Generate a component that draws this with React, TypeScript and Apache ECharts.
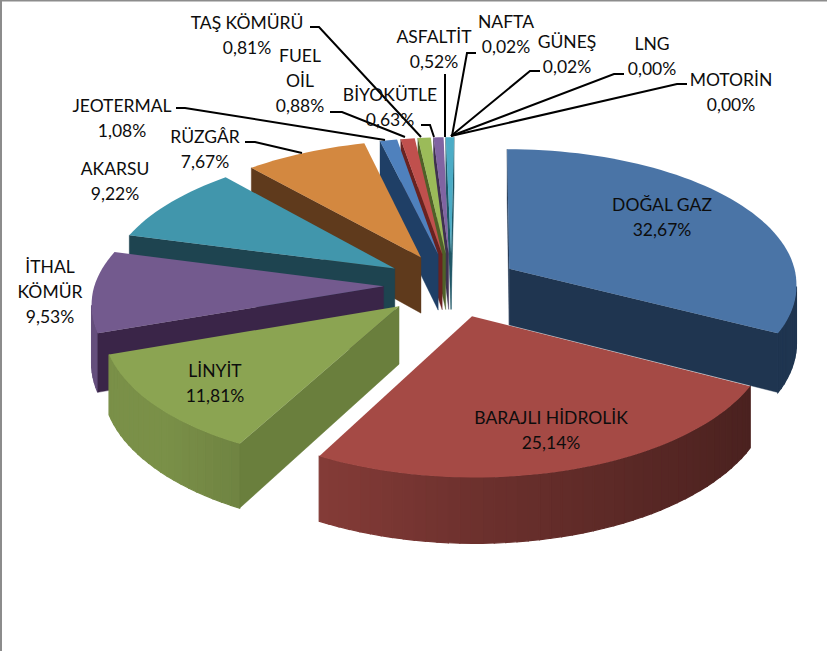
import React, { useEffect, useRef } from "react";
import * as echarts from "echarts";

const names = ["DOĞAL GAZ","BARAJLI HİDROLİK","LİNYİT","İTHAL KÖMÜR","AKARSU","RÜZGÂR","JEOTERMAL","FUEL OİL","TAŞ KÖMÜRÜ","BİYOKÜTLE","ASFALTİT","NAFTA","GÜNEŞ","LNG","MOTORİN"];
const values = [32.67,25.14,11.81,9.53,9.22,7.67,1.08,0.88,0.81,0.63,0.52,0.02,0.02,0.0,0.0];

const topColors = ["#4a74a6","#a54a45","#8ba452","#735a8e","#4196ac","#d38840","#4f81bd","#c0504d","#9bbb59","#8064a2","#4bacc6","#f79646","#4f81bd","#c0504d","#9bbb59"];
const wallColors = ["#1f3550","#4a1f1e","#6a7f3d","#3a2548","#1e4450","#5f3a1c","#1f3f66","#6a2220","#4f6128","#3f3151","#205867","#974806","#1f3f66","#6a2220","#4f6128"];

// projection of the pie's plane to the screen
const CX = 451.5, CY = 285, RX = 289, RY = 136, PERSP = 0.11, SKEW = 3.5, EXPLODE = 0.235, DEPTH = 57;

// label lines: text centre x, first line y; wrapped names
const labelLayout: Record<number, { x: number; y: number; lines: string[] }> = {
  0: { x: 662, y: 204, lines: ["DOĞAL GAZ"] },
  1: { x: 551, y: 417, lines: ["BARAJLI HİDROLİK"] },
  2: { x: 215, y: 370, lines: ["LİNYİT"] },
  3: { x: 50, y: 266, lines: ["İTHAL", "KÖMÜR"] },
  4: { x: 115, y: 168, lines: ["AKARSU"] },
  5: { x: 205, y: 136, lines: ["RÜZGÂR"] },
  6: { x: 122, y: 105, lines: ["JEOTERMAL"] },
  7: { x: 300, y: 55, lines: ["FUEL", "OİL"] },
  8: { x: 247, y: 22, lines: ["TAŞ KÖMÜRÜ"] },
  9: { x: 390, y: 94, lines: ["BİYOKÜTLE"] },
  10: { x: 434, y: 36, lines: ["ASFALTİT"] },
  11: { x: 506, y: 21, lines: ["NAFTA"] },
  12: { x: 567, y: 41, lines: ["GÜNEŞ"] },
  13: { x: 652, y: 43, lines: ["LNG"] },
  14: { x: 731, y: 79, lines: ["MOTORİN"] },
};
const leaderLayout: number[][][] = [
  [[176,108],[185,108],[385,140]],
  [[330,112],[342,112],[405,137]],
  [[310,27],[319,27],[421,137]],
  [[245,142],[255,142],[302,153]],
  [[421,125],[430,125],[434,137]],
  [[445,74],[445,137]],
  [[476,53],[467,53],[452,136]],
  [[540,71],[530,71],[451,136]],
  [[624,74],[614,74],[451,136]],
  [[687,84],[677,84],[451,136]],
];

const rad = (d: number) => (d * Math.PI) / 180;
const project = (u: number, v: number) => {
  const w = 1 + PERSP * v;
  return { x: CX + (RX * u) / w + SKEW * Math.max(v, 0), y: CY - (RY * v) / w, d: DEPTH / w };
};
const shade = (hex: string, f: number) => {
  const n = parseInt(hex.slice(1), 16);
  const c = [(n >> 16) & 255, (n >> 8) & 255, n & 255].map((a) => Math.round(a * f));
  return `rgb(${c[0]},${c[1]},${c[2]})`;
};

const total = values.reduce((a, b) => a + b, 0);
const starts: number[] = [];
values.reduce((acc, v, i) => { starts[i] = acc; return acc + v; }, 0);
const rows = values.map((v, i) => [(starts[i] / total) * 360, ((starts[i] + v) / total) * 360, i]);
const drawOrder = [10, 9, 8, 7, 6, 5, 4, 3, 2, 1, 0];

function renderItem(_: any, api: any) {
  const a0 = api.value(0), a1 = api.value(1), idx = api.value(2);
  const mid = rad((a0 + a1) / 2);
  const u0 = EXPLODE * Math.sin(mid), v0 = EXPLODE * Math.cos(mid);
  const apex = project(u0, v0);
  const n = Math.max(2, Math.ceil((a1 - a0) / 2));
  const arc = [];
  for (let i = 0; i <= n; i++) {
    const t = rad(a0 + ((a1 - a0) * i) / n);
    arc.push({ ...project(u0 + Math.sin(t), v0 + Math.cos(t)), t });
  }
  const children: any[] = [];
  const quad = (a: any, b: any, fill: string, lw: number) => children.push({
    type: "polygon",
    shape: { points: [[a.x, a.y], [b.x, b.y], [b.x, b.y + b.d], [a.x, a.y + a.d]] },
    style: { fill, stroke: fill, lineWidth: lw },
  });
  // walls facing the viewer: clockwise traversal going leftwards on screen
  const last = arc[arc.length - 1];
  for (let i = 0; i < n; i++) {
    if (arc[i + 1].x < arc[i].x) {
      const s = Math.sin((arc[i].t + arc[i + 1].t) / 2);
      const f = s > 0 ? 0.66 - 0.24 * s : Math.min(0.88, 0.66 - 0.3 * s);
      quad(arc[i], arc[i + 1], idx === 0 ? wallColors[0] : shade(topColors[idx], f), 1.2);
    }
  }
  if (last.x > apex.x) quad(last, apex, wallColors[idx], 0.4);
  if (arc[0].x < apex.x) quad(apex, arc[0], wallColors[idx], 0.4);
  children.push({
    type: "polygon",
    shape: { points: [[apex.x, apex.y], ...arc.map((p) => [p.x, p.y])] },
    style: { fill: topColors[idx] },
  });
  return { type: "group", children };
}

const FONT = "Lato";
const fmt = (v: number) => v.toFixed(2).replace(".", ",") + "%";

function buildLabels() {
  const els: any[] = [];
  const LH = 25;
  names.forEach((_, i) => {
    const l = labelLayout[i];
    [...l.lines, fmt(values[i])].forEach((t, k) => {
      els.push({
        type: "text", x: l.x, y: l.y + k * LH, z: 20,
        style: { text: t, fill: "#0d0d0d", font: `17.5px ${FONT}`, align: "center", verticalAlign: "middle" },
      });
    });
  });
  leaderLayout.forEach((pts) => els.push({
    type: "polyline", z: 19, shape: { points: pts },
    style: { stroke: "#000", lineWidth: 2, fill: "none" },
  }));
  els.push({ type: "rect", z: 30, shape: { x: 0, y: 0, width: 2, height: 651 }, style: { fill: "#8c8c8c" } });
  els.push({ type: "rect", z: 30, shape: { x: 0, y: 0, width: 827, height: 1.5 }, style: { fill: "#8c8c8c" } });
  return els;
}

export default function App() {
  const ref = useRef<HTMLDivElement>(null);
  useEffect(() => {
    document.body.style.margin = "0";
    const chart = echarts.init(ref.current!, undefined, { renderer: "svg" });
    chart.setOption({
      animation: false,
      backgroundColor: "#fff",
      series: [{
        type: "custom",
        coordinateSystem: "none",
        silent: true,
        renderItem,
        data: drawOrder.map((i) => ({ name: names[i], value: rows[i] })),
      }],
      graphic: { elements: buildLabels() },
    });
    return () => chart.dispose();
  }, []);
  return <div ref={ref} style={{ width: 827, height: 651 }} />;
}
